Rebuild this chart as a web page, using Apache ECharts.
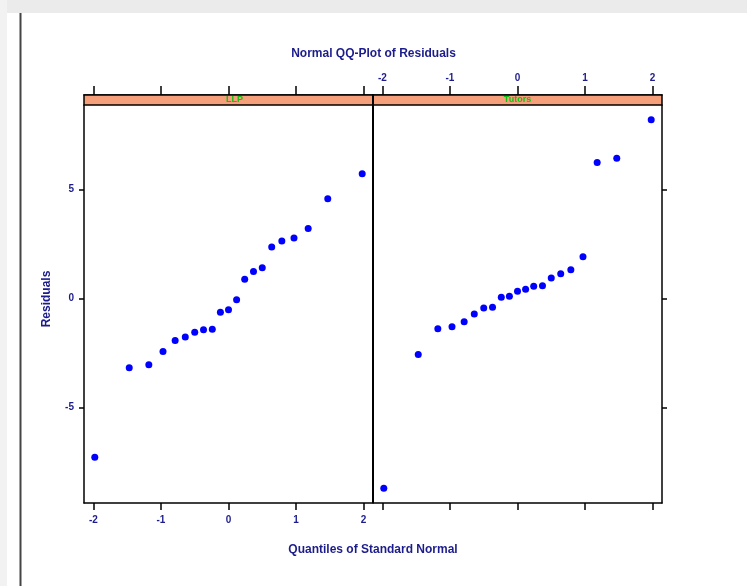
<!DOCTYPE html>
<html>
<head>
<meta charset="utf-8">
<script src="https://cdn.jsdelivr.net/npm/echarts@6/dist/echarts.min.js"></script>
<style>
html,body{margin:0;padding:0;background:#fff;}
#main{width:747px;height:586px;}
</style>
</head>
<body>
<div id="main"></div>
<script>
// ---- data ----
const panelNames = ['LLP', 'Tutors'];
const xTickValues = [-2, -1, 0, 1, 2];
const yTickValues = [-5, 0, 5];
const quantLeft = [-1.98, -1.47, -1.18, -0.97, -0.79, -0.64, -0.50, -0.37, -0.24, -0.12, 0.00, 0.12, 0.24, 0.37, 0.50, 0.64, 0.79, 0.97, 1.18, 1.47, 1.98];
const residLeft = [-7.28, -3.17, -3.04, -2.43, -1.92, -1.76, -1.55, -1.43, -1.41, -0.63, -0.51, -0.06, 0.89, 1.24, 1.41, 2.36, 2.64, 2.78, 3.21, 4.58, 5.73];
const quantRight = [-1.98, -1.47, -1.18, -0.97, -0.79, -0.64, -0.50, -0.37, -0.24, -0.12, 0.00, 0.12, 0.24, 0.37, 0.50, 0.64, 0.79, 0.97, 1.18, 1.47, 1.98];
const residRight = [-8.70, -2.57, -1.38, -1.29, -1.07, -0.71, -0.43, -0.40, 0.06, 0.11, 0.34, 0.43, 0.57, 0.59, 0.94, 1.14, 1.32, 1.92, 6.24, 6.44, 8.20];

// ---- layout ----
const TOP = 105, H = 398, W = 289, L1 = 84, L2 = 373, STRIP = 10;
const XMIN = -2.14, XMAX = 2.14, YMIN = -9.38, YMAX = 8.88;
const NAVY = '#1c1c8c';
const FONT = 'Liberation Sans';

const chart = echarts.init(document.getElementById('main'), null, {renderer: 'canvas'});

function xAxisDef(gridIndex, position, showLabels, offset) {
  const top = position === 'top';
  return {
    type: 'value', gridIndex: gridIndex, position: position, offset: offset || 0,
    min: XMIN, max: XMAX,
    axisLine: {show: true, onZero: false, lineStyle: {color: '#000', width: 1.5}},
    axisTick: {show: true, inside: false, length: top ? 9 : 7, customValues: xTickValues, lineStyle: {color: '#000', width: 1.5}},
    axisLabel: {show: showLabels, customValues: xTickValues, color: NAVY, fontFamily: FONT, fontSize: 10, fontWeight: 'bold', margin: top ? 12 : 12},
    splitLine: {show: false}
  };
}
function yAxisDef(gridIndex, position, showLabels) {
  return {
    type: 'value', gridIndex: gridIndex, position: position,
    min: YMIN, max: YMAX,
    axisLine: {show: true, onZero: false, lineStyle: {color: '#000', width: 1.5}},
    axisTick: {show: true, inside: false, length: 5, customValues: yTickValues, lineStyle: {color: '#000', width: 1.5}},
    axisLabel: {show: showLabels, customValues: yTickValues, color: NAVY, fontFamily: FONT, fontSize: 10, fontWeight: 'bold', margin: 10},
    splitLine: {show: false}
  };
}

const option = {
  backgroundColor: '#ffffff',
  animation: false,
  title: [
    {text: 'Normal QQ-Plot of Residuals', left: 'center', top: 43, textStyle: {color: NAVY, fontFamily: FONT, fontSize: 12, fontWeight: 'bold'}},
  ],
  grid: [
    {left: L1, top: TOP, width: W, height: H},
    {left: L2, top: TOP, width: W, height: H}
  ],
  xAxis: [
    xAxisDef(0, 'bottom', true),
    xAxisDef(1, 'bottom', false),
    xAxisDef(0, 'top', false, STRIP),
    xAxisDef(1, 'top', true, STRIP)
  ],
  yAxis: [
    yAxisDef(0, 'left', true),
    yAxisDef(1, 'right', false)
  ],
  series: [
    {type: 'scatter', xAxisIndex: 0, yAxisIndex: 0, symbol: 'circle', symbolSize: 7,
     itemStyle: {color: '#0000ff', opacity: 1}, data: quantLeft.map((q, i) => [q, residLeft[i]])},
    {type: 'scatter', xAxisIndex: 1, yAxisIndex: 1, symbol: 'circle', symbolSize: 7,
     itemStyle: {color: '#0000ff', opacity: 1}, data: quantRight.map((q, i) => [q, residRight[i]])}
  ],
  graphic: [
    {type: 'rect', shape: {x: 0, y: 0, width: 747, height: 13}, style: {fill: '#ebebeb'}, z: 0},
    {type: 'rect', shape: {x: 0, y: 0, width: 7, height: 586}, style: {fill: '#f2f2f2'}, z: 0},
    {type: 'line', shape: {x1: 20.5, y1: 13, x2: 20.5, y2: 586}, style: {stroke: '#444', lineWidth: 2}, z: 1},
    {type: 'rect', shape: {x: L1, y: TOP - STRIP, width: W, height: STRIP}, style: {fill: '#f5a07a', stroke: '#000', lineWidth: 1.5}, z: 5},
    {type: 'rect', shape: {x: L2, y: TOP - STRIP, width: W, height: STRIP}, style: {fill: '#f5a07a', stroke: '#000', lineWidth: 1.5}, z: 5},
    {type: 'line', shape: {x1: L2, y1: TOP - STRIP, x2: L2, y2: TOP + H}, style: {stroke: '#000', lineWidth: 2}, z: 6},
    {type: 'text', x: L1 + W / 2 + 6, y: TOP - STRIP / 2, style: {text: panelNames[0], fill: '#10c010', font: 'bold 9px "Liberation Sans"', textAlign: 'center', textVerticalAlign: 'middle'}, z: 6},
    {type: 'text', x: L2 + W / 2, y: TOP - STRIP / 2, style: {text: panelNames[1], fill: '#10c010', font: 'bold 9px "Liberation Sans"', textAlign: 'center', textVerticalAlign: 'middle'}, z: 6},
    {type: 'text', x: (L1 + L2 + W) / 2, y: 550, style: {text: 'Quantiles of Standard Normal', fill: NAVY, font: 'bold 12px "Liberation Sans"', textAlign: 'center', textVerticalAlign: 'middle'}, z: 6},
    {type: 'text', x: 47, y: TOP + H / 2 - 5, rotation: Math.PI / 2, style: {text: 'Residuals', fill: NAVY, font: 'bold 12px "Liberation Sans"', textAlign: 'center', textVerticalAlign: 'middle'}, z: 6}
  ]
};
chart.setOption(option);
</script>
</body>
</html>
